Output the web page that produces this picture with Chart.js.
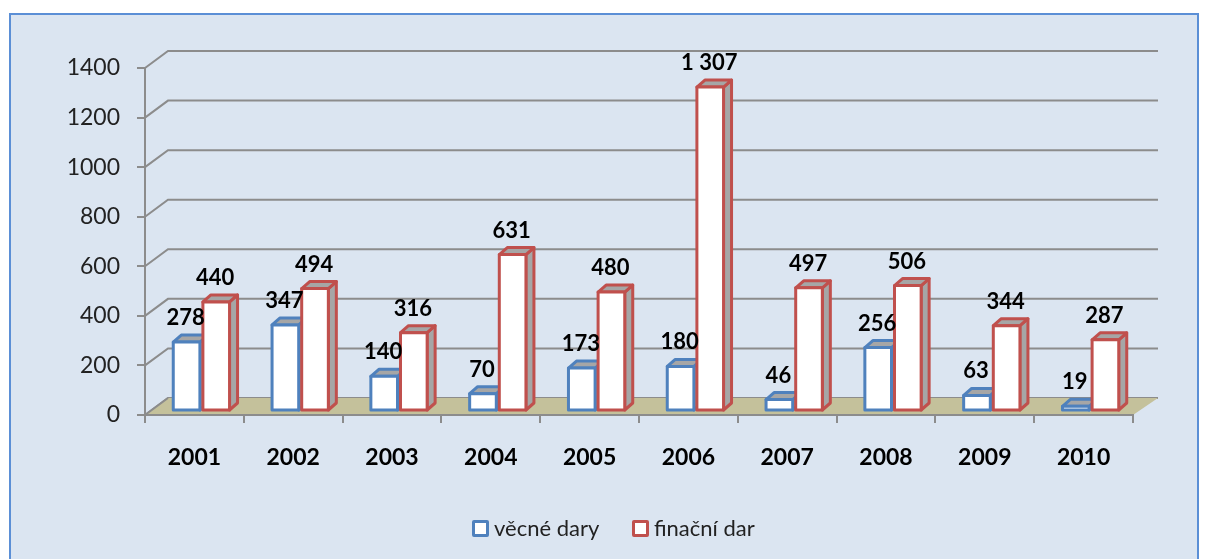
<!DOCTYPE html>
<html>
<head>
<meta charset="utf-8">
<script src="https://cdn.jsdelivr.net/npm/chart.js@4.4.0/dist/chart.umd.min.js"></script>
<style>
  body { margin: 0; background: #ffffff; width: 1207px; height: 559px; overflow: hidden; position: relative; }
  #frame { position: absolute; left: 9px; top: 13px; width: 1186px; height: 600px; border: 2px solid #5b8fd6; background: #dbe5f1; }
  #chart { position: absolute; left: 0; top: 0; }
  .leg { position: absolute; top: 515px; font-family: Lato, sans-serif; font-size: 22px; color: #222; line-height: 26px; }
  .leg span.box { display: inline-block; width: 11px; height: 11px; border: 3px solid; border-radius: 2px; background: #fff; vertical-align: -1px; margin-right: 5px; }
</style>
</head>
<body>
<div id="frame"></div>
<canvas id="chart" width="1207" height="559"></canvas>
<div class="leg" style="left:472px"><span class="box" style="border-color:#4f81bd"></span>věcné dary</div>
<div class="leg" style="left:632px"><span class="box" style="border-color:#c0504d"></span>finační dar</div>
<script>
  var roky = ['2001', '2002', '2003', '2004', '2005', '2006', '2007', '2008', '2009', '2010'];
  var vecneDary = [278, 347, 140, 70, 173, 180, 46, 256, 63, 19];
  var financniDar = [440, 494, 316, 631, 480, 1307, 497, 506, 344, 287];
  var yMin = 0, yMax = 1400, yKrok = 200;

  var barvy = ['#4f81bd', '#c0504d'];
  var sedaCara = '#8c8c8c';

  // hloubka 3D efektu
  var hloubkaX = 23, hloubkaY = -17;   // zadni stena
  var posunX = 7, posunY = -4;         // sloupce stoji uprostred podlahy
  var bokX = 8, bokY = -7;             // hloubka sloupce

  function formatCislo(v) {
    return String(v).replace(/\B(?=(\d{3})+(?!\d))/g, ' ');
  }

  var stena = {
    id: 'stena',
    beforeDraw: function (chart) {
      var ctx = chart.ctx;
      var a = chart.chartArea;
      var y = chart.scales.y;
      ctx.save();
      ctx.strokeStyle = sedaCara;
      ctx.lineWidth = 2;
      for (var v = yMin; v <= yMax; v += yKrok) {
        var py = y.getPixelForValue(v);
        ctx.beginPath();
        ctx.moveTo(a.left, py);
        ctx.lineTo(a.left + hloubkaX, py + hloubkaY);
        ctx.lineTo(a.right + hloubkaX + 2, py + hloubkaY);
        ctx.stroke();
      }
      // podlaha
      var p0 = y.getPixelForValue(0);
      ctx.fillStyle = '#c4c19b';
      ctx.beginPath();
      ctx.moveTo(a.left, p0);
      ctx.lineTo(a.left + hloubkaX, p0 + hloubkaY);
      ctx.lineTo(a.right + hloubkaX + 2, p0 + hloubkaY);
      ctx.lineTo(a.right, p0);
      ctx.closePath();
      ctx.fill();
      ctx.beginPath();
      ctx.moveTo(a.left, p0);
      ctx.lineTo(a.left + hloubkaX, p0 + hloubkaY);
      ctx.stroke();
      ctx.restore();
    }
  };

  function kvadr(ctx, x0, x1, top, base, barva) {
    ctx.fillStyle = '#a6a6a6';
    ctx.strokeStyle = barva;
    ctx.lineWidth = 3;
    ctx.lineJoin = 'round';
    // bok
    ctx.beginPath();
    ctx.moveTo(x1, top);
    ctx.lineTo(x1 + bokX, top + bokY);
    ctx.lineTo(x1 + bokX, base + bokY);
    ctx.lineTo(x1, base);
    ctx.closePath();
    ctx.fill();
    ctx.stroke();
    // vrsek
    ctx.beginPath();
    ctx.moveTo(x0, top);
    ctx.lineTo(x0 + bokX, top + bokY);
    ctx.lineTo(x1 + bokX, top + bokY);
    ctx.lineTo(x1, top);
    ctx.closePath();
    ctx.fill();
    ctx.stroke();
    // predek
    ctx.fillStyle = '#ffffff';
    ctx.fillRect(x0, top, x1 - x0, base - top);
    ctx.strokeRect(x0, top, x1 - x0, base - top);
  }

  var sloupce3d = {
    id: 'sloupce3d',
    afterDatasetsDraw: function (chart) {
      var ctx = chart.ctx;
      ctx.save();
      for (var j = 0; j < roky.length; j++) {
        for (var i = 0; i < chart.data.datasets.length; i++) {
          var el = chart.getDatasetMeta(i).data[j];
          var x0 = el.x - el.width / 2 + posunX + 1.5;
          var x1 = el.x + el.width / 2 + posunX - 1.5;
          var top = el.y + posunY;
          var base = el.base + posunY;
          kvadr(ctx, x0, x1, top, base, barvy[i]);
        }
      }
      ctx.fillStyle = '#000';
      ctx.font = 'bold 22px Lato';
      ctx.textAlign = 'center';
      ctx.textBaseline = 'middle';
      for (var j = 0; j < roky.length; j++) {
        for (var i = 0; i < chart.data.datasets.length; i++) {
          var el = chart.getDatasetMeta(i).data[j];
          var hodnota = chart.data.datasets[i].data[j];
          ctx.fillText(formatCislo(hodnota), el.x + posunX - 1, el.y + posunY - 24);
        }
      }
      ctx.restore();
    }
  };

  new Chart(document.getElementById('chart'), {
    type: 'bar',
    data: {
      labels: roky,
      datasets: [
        { label: 'věcné dary', data: vecneDary, backgroundColor: 'rgba(0,0,0,0)', borderWidth: 0 },
        { label: 'finační dar', data: financniDar, backgroundColor: 'rgba(0,0,0,0)', borderWidth: 0 }
      ]
    },
    options: {
      responsive: false,
      animation: false,
      layout: { padding: { top: 68, right: 74, left: 0, bottom: 0 } },
      datasets: { bar: { categoryPercentage: 0.6, barPercentage: 1.0 } },
      plugins: { legend: { display: false }, tooltip: { enabled: false } },
      scales: {
        x: {
          offset: true,
          grid: { offset: true, drawOnChartArea: false, color: sedaCara, lineWidth: 2, tickLength: 8 },
          border: { color: sedaCara, width: 2 },
          ticks: { font: { family: 'Lato', size: 23, weight: 'bold' }, color: '#000', padding: 21 },
          afterFit: function (s) { s.height = 144; }
        },
        y: {
          min: yMin,
          max: yMax,
          ticks: {
            stepSize: yKrok,
            font: { family: 'Lato', size: 23 },
            color: '#222',
            padding: 17,
            callback: function (v) { return String(v); }
          },
          grid: { drawOnChartArea: false, color: sedaCara, lineWidth: 2, tickLength: 8 },
          border: { color: sedaCara, width: 2 },
          afterFit: function (s) { s.width = 145; }
        }
      }
    },
    plugins: [stena, sloupce3d]
  });
</script>
</body>
</html>
